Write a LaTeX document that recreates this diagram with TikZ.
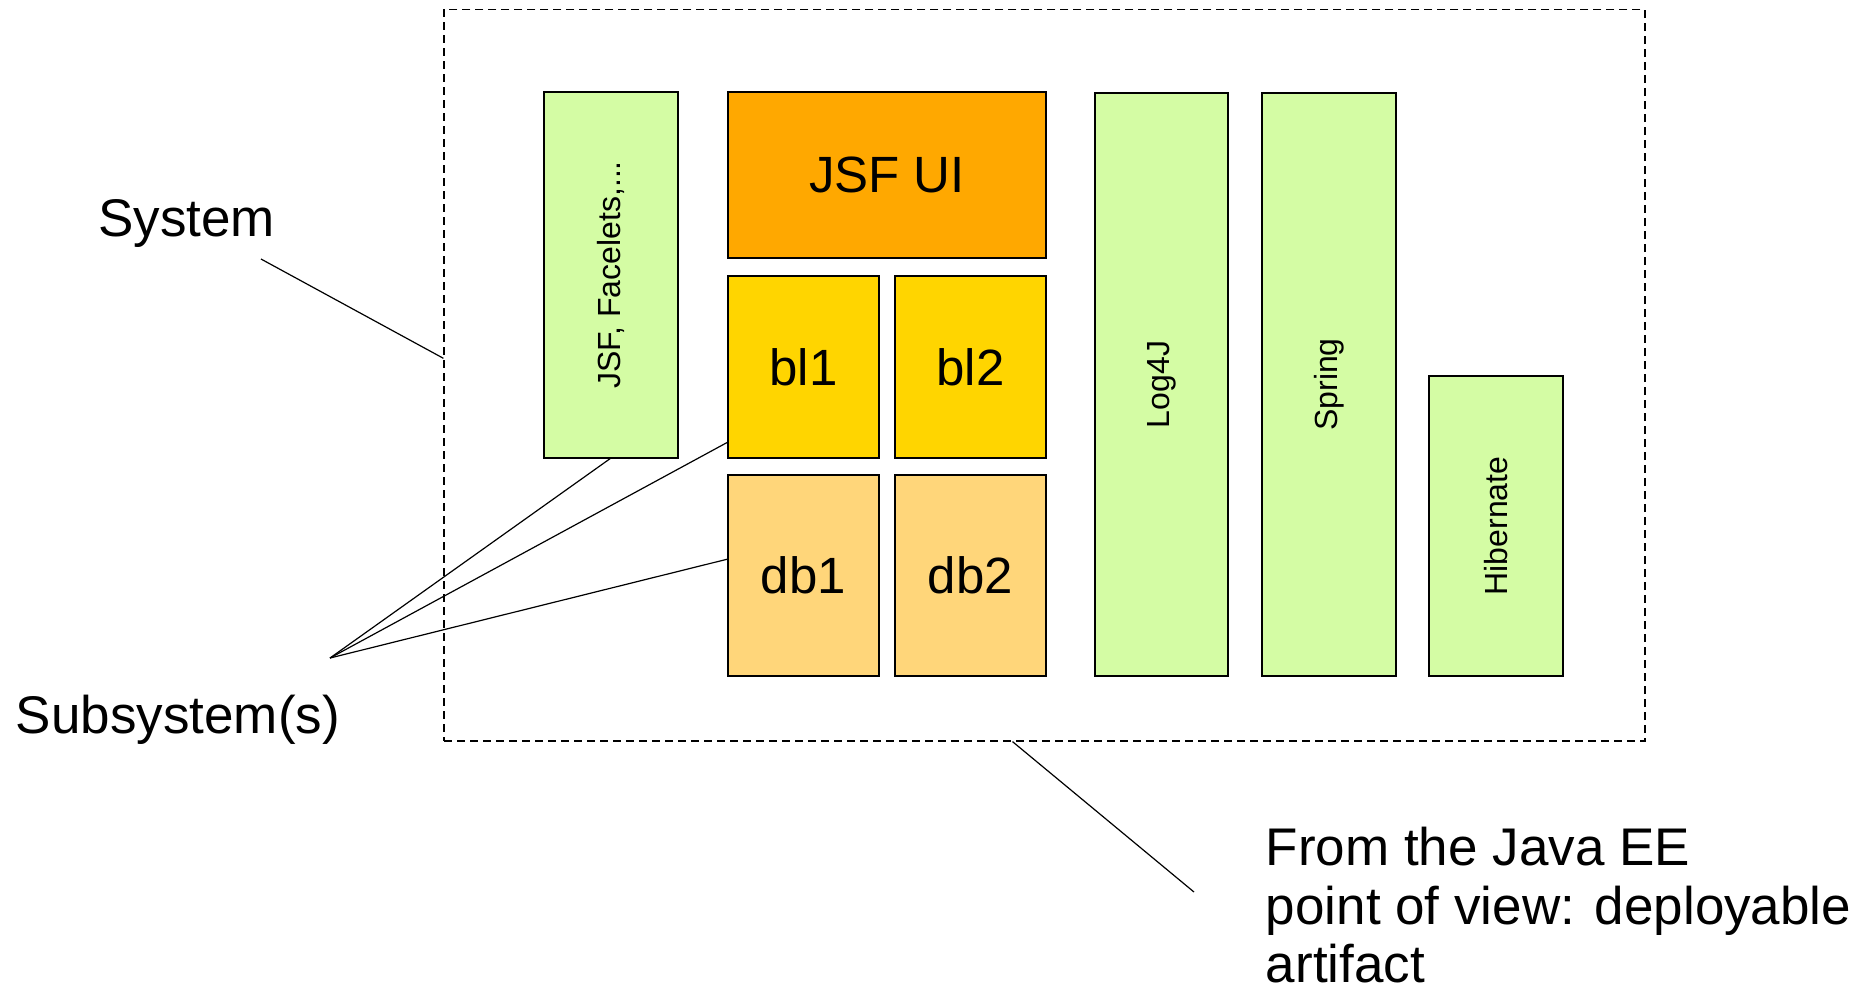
\documentclass[tikz,border=0pt]{standalone}
\usepackage{fontspec}
\setmainfont{Liberation Sans}
\usetikzlibrary{calc}
\definecolor{libgreen}{RGB}{212,252,164}
\definecolor{uiorange}{RGB}{255,168,0}
\definecolor{blyellow}{RGB}{255,213,0}
\definecolor{dbtan}{RGB}{255,214,122}
\begin{document}
\begin{tikzpicture}[x=0.5pt,y=-0.5pt,
  box/.style={draw=black,line width=0.8pt,inner sep=0pt,outer sep=0pt},
  gbox/.style={box,fill=libgreen,font=\fontsize{16}{19}\selectfont},
  bigtxt/.style={font=\fontsize{25.5}{30}\selectfont},
  lbl/.style={inner sep=0pt,font=\fontsize{26.5}{29.25}\selectfont},
  conn/.style={draw=black,line width=0.6pt},
  sysbox/.style={draw=black,line width=0.6pt,dash pattern=on 4pt off 2.5pt,inner sep=0pt}]
\useasboundingbox (0,0) rectangle (1872,993);
% deployable artifact
\node[sysbox,minimum width=600.5pt,minimum height=365.7pt] (sys) at (1044.5,375.3) {};
% boxes
\node[gbox,minimum width=67pt,minimum height=183pt] (jsf) at (611,275) {\rotatebox{90}{JSF, Facelets,...}};
\node[box,fill=uiorange,bigtxt,minimum width=159pt,minimum height=83pt] (ui) at (887,175) {JSF UI};
\node[box,fill=blyellow,bigtxt,minimum width=75.5pt,minimum height=91pt] (bl1) at (803.5,367) {bl1};
\node[box,fill=blyellow,bigtxt,minimum width=75.5pt,minimum height=91pt] (bl2) at (970.5,367) {bl2};
\node[box,fill=dbtan,bigtxt,minimum width=75.5pt,minimum height=100.5pt] (db1) at (803.5,575.5) {db1};
\node[box,fill=dbtan,bigtxt,minimum width=75.5pt,minimum height=100.5pt] (db2) at (970.5,575.5) {db2};
\node[gbox,minimum width=66.5pt,minimum height=291.5pt] (log) at (1161.5,384.5) {\rotatebox{90}{Log4J}};
\node[gbox,minimum width=67pt,minimum height=291.5pt] (spring) at (1329,384.5) {\rotatebox{90}{Spring}};
\node[gbox,minimum width=67pt,minimum height=150pt] (hib) at (1496,526) {\rotatebox{90}{Hibernate}};
% labels
\node[lbl,anchor=base west] (system) at (98,236) {System};
\node[lbl,anchor=base west] (subsys) at (15.5,733) {Subsystem(s)};
\node[lbl,anchor=north west,align=left] (jee) at (1265.5,827) {From the Java EE\\point of view: deployable\\artifact};
% connectors
\coordinate (systail) at (261,259);
\coordinate (syshit) at ($(sys.west)+(0,-17)$);
\draw[conn] (systail) -- (syshit);
\coordinate (apex) at (330,658);
\draw[conn] (apex) -- (jsf.south);
\draw[conn] (apex) -- ($(bl1.south west)+(0,-16)$);
\draw[conn] (apex) -- ($(db1.west)+(0,-16.5)$);
\coordinate (jeetail) at (1194,892);
\draw[conn] ($(sys.south)+(-32,0)$) -- (jeetail);
\end{tikzpicture}
\end{document}
